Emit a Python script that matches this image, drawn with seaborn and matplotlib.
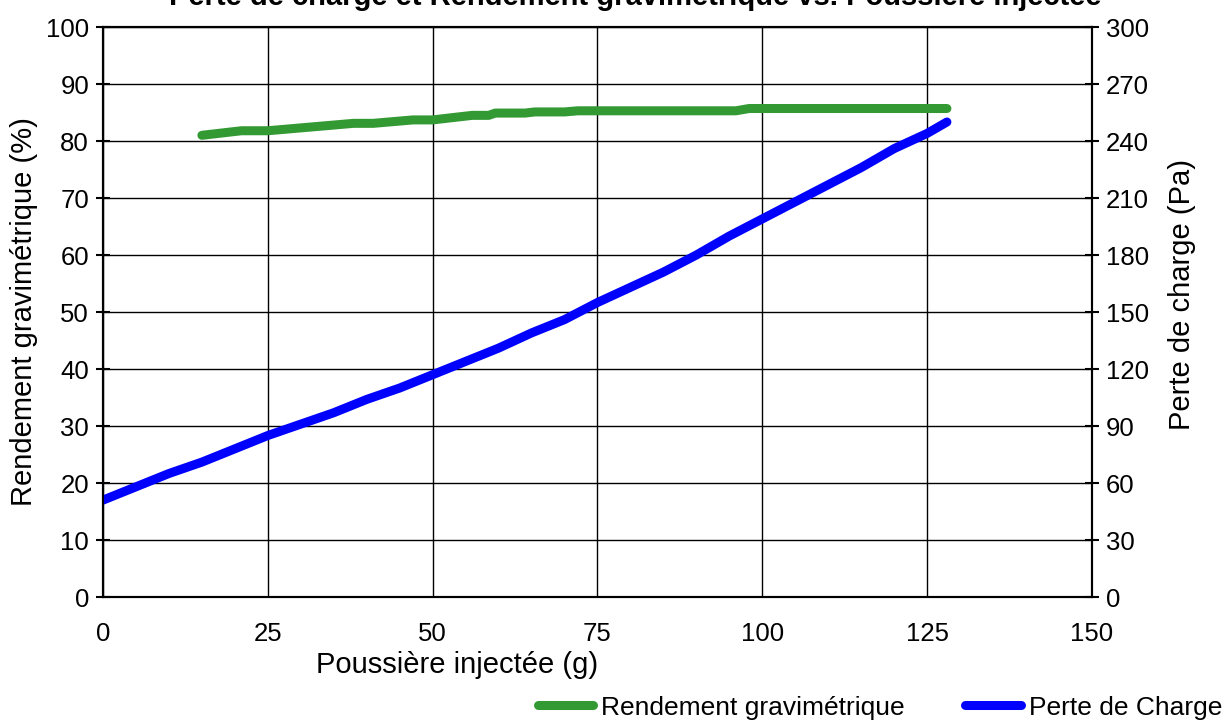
import pandas as pd
import seaborn as sns
import matplotlib.pyplot as plt
from matplotlib.lines import Line2D

# data
poussiere_rend = [15, 21, 25, 30, 38, 41, 47, 50, 56, 58.5, 59.5, 64, 65.5, 70, 72, 96, 98, 128]
rendement = [81.0, 81.8, 81.8, 82.3, 83.1, 83.1, 83.7, 83.7, 84.5, 84.5, 84.9, 84.9,
             85.1, 85.1, 85.3, 85.3, 85.7, 85.7]

poussiere_perte = [0, 5, 10, 15, 20, 25, 30, 35, 40, 45, 50, 55, 60, 65, 70, 75, 80,
                   85, 90, 95, 100, 105, 110, 115, 120, 125, 128]
perte_charge = [51, 58, 65, 71, 78, 85, 91, 97, 104, 110, 117, 124, 131, 139, 146, 155,
                163, 171, 180, 190, 199, 208, 217, 226, 236, 244, 250]

left_ticks = list(range(0, 101, 10))
right_ticks = list(range(0, 301, 30))
x_ticks = list(range(0, 151, 25))

df_rend = pd.DataFrame({"x": poussiere_rend, "y": rendement})
df_perte = pd.DataFrame({"x": poussiere_perte, "y": perte_charge})

sns.set_style("white")
plt.rcParams['font.family'] = ['Liberation Sans', 'DejaVu Sans']
plt.rcParams['text.color'] = 'black'
plt.rcParams['axes.labelcolor'] = 'black'

green = "#339933"
blue = "#0000FF"

fig = plt.figure(figsize=(12.29, 7.2), dpi=100)
ax = fig.add_axes([0.0838, 0.1708, 0.8047, 0.7917])
ax2 = ax.twinx()

sns.lineplot(data=df_rend, x="x", y="y", ax=ax, color=green, lw=6.5,
             solid_capstyle="round", solid_joinstyle="round")
sns.lineplot(data=df_perte, x="x", y="y", ax=ax2, color=blue, lw=6.5,
             solid_capstyle="round", solid_joinstyle="round")

ax.set_xlim(0, 150)
ax.set_ylim(0, 100)
ax2.set_ylim(0, 300)
ax.set_xticks(x_ticks)
ax.set_yticks(left_ticks)
ax2.set_yticks(right_ticks)

ax.grid(True, color="black", lw=1)
ax2.grid(False)
for a in (ax, ax2):
    for s in a.spines.values():
        s.set_color("black")
        s.set_linewidth(1.5)

ax.tick_params(axis="both", labelsize=18.5, direction="inout", length=10, width=1.5,
               colors="black", pad=5)
ax.tick_params(axis="x", direction="in", length=0, pad=18)
ax2.tick_params(axis="y", labelsize=18.5, direction="inout", length=10, width=1.5,
                colors="black", pad=5)

ax.set_xlabel("Poussière injectée (g)", fontsize=21, color="black")
ax.xaxis.set_label_coords(0.358, -0.094)
ax.set_ylabel("Rendement gravimétrique (%)", fontsize=21, color="black")
ax.yaxis.set_label_coords(-0.066, 0.5)
ax2.set_ylabel("Perte de charge (Pa)", fontsize=21, rotation=90, color="black")
ax2.yaxis.set_label_coords(1.077, 0.53)

# title sits partly above the figure edge, as in the original export
fig.text(0.517, 0.993, "Perte de charge et Rendement gravimétrique vs. Poussière injectée",
         ha="center", va="baseline", fontsize=21, fontweight="bold", color="black")

handles = [Line2D([0], [0], color=green, lw=6.5, solid_capstyle="round"),
           Line2D([0], [0], color=blue, lw=6.5, solid_capstyle="round")]
leg = fig.legend(handles, ["Rendement gravimétrique", "Perte de Charge"],
                 loc="lower right", bbox_to_anchor=(1.003, -0.014), ncol=2, frameon=False,
                 fontsize=19, handlelength=2.1, handletextpad=0.3, columnspacing=2.3,
                 borderaxespad=0)
for t in leg.get_texts():
    t.set_color("black")

fig.savefig("out.png", dpi=100)
